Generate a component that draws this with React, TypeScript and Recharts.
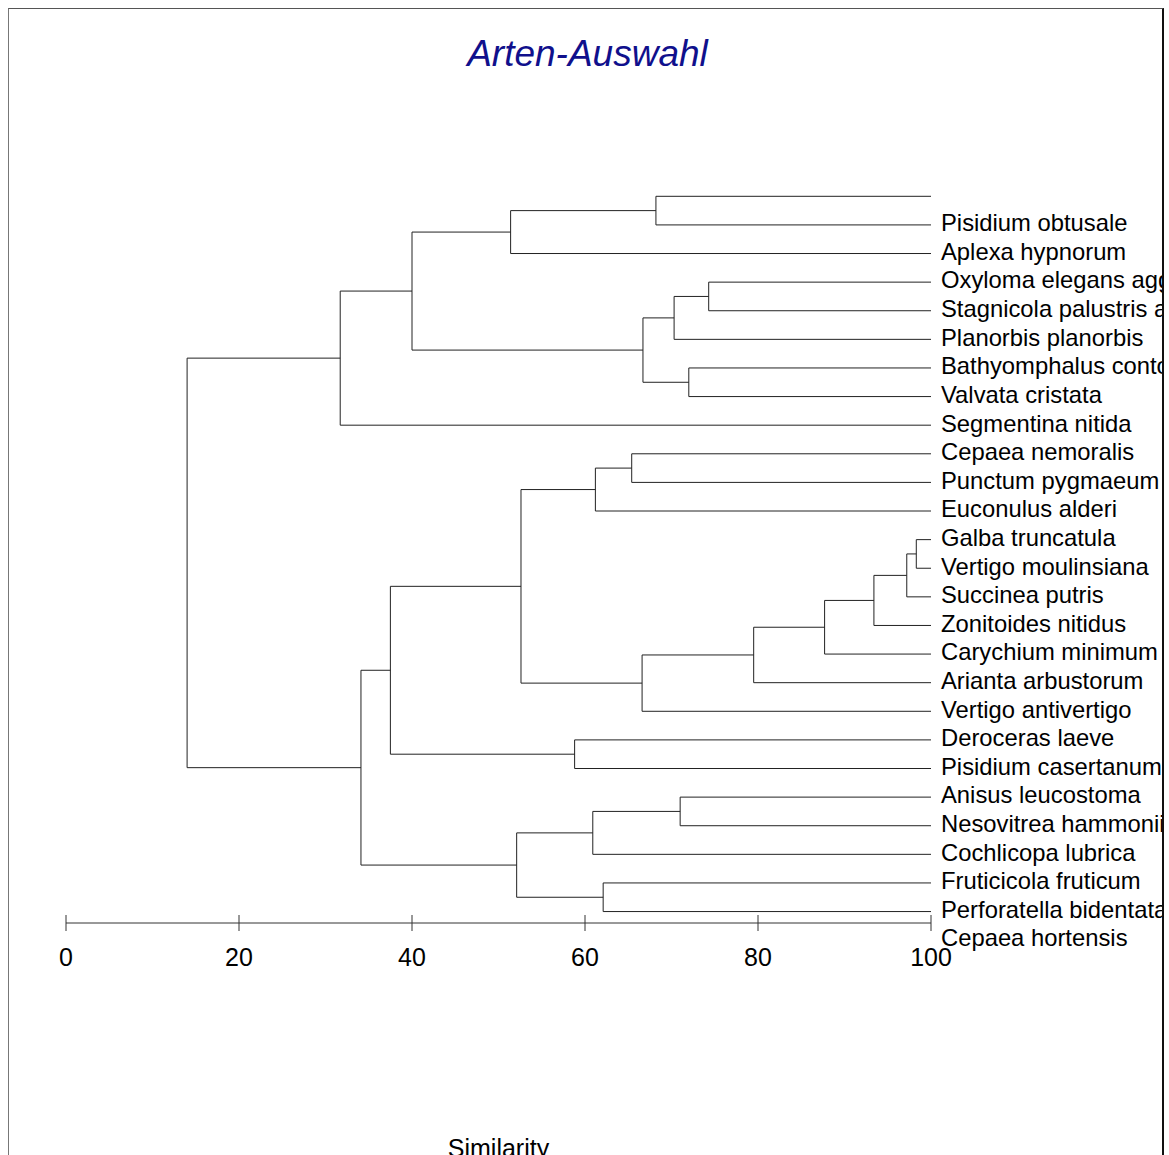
import { LineChart, Line, XAxis, YAxis } from 'recharts';

// species names, top to bottom
const LABELS = [
  'Pisidium obtusale',
  'Aplexa hypnorum',
  'Oxyloma elegans agg.',
  'Stagnicola palustris agg.',
  'Planorbis planorbis',
  'Bathyomphalus contortus',
  'Valvata cristata',
  'Segmentina nitida',
  'Cepaea nemoralis',
  'Punctum pygmaeum',
  'Euconulus alderi',
  'Galba truncatula',
  'Vertigo moulinsiana',
  'Succinea putris',
  'Zonitoides nitidus',
  'Carychium minimum',
  'Arianta arbustorum',
  'Vertigo antivertigo',
  'Deroceras laeve',
  'Pisidium casertanum',
  'Anisus leucostoma',
  'Nesovitrea hammonii',
  'Cochlicopa lubrica',
  'Fruticicola fruticum',
  'Perforatella bidentata',
  'Cepaea hortensis',
];

const LEAF_COUNT = 26;

// linkage: leaves are 0..25 (row order), merge k creates node 26 + k
const MERGE_LEFT = [12, 26, 27, 28, 29, 3, 6, 21, 31, 0, 34, 30, 9, 24, 38, 33, 19, 40, 41, 35, 45, 43, 47, 46, 49];
const MERGE_RIGHT = [13, 14, 15, 16, 17, 4, 7, 22, 5, 1, 32, 18, 10, 25, 11, 23, 20, 37, 39, 2, 36, 42, 44, 8, 48];
const MERGE_SIM = [98.3, 97.2, 93.4, 87.7, 79.5, 74.3, 72.0, 71.0, 70.3, 68.2, 66.7, 66.6, 65.4, 62.1, 61.2, 60.9, 58.8, 52.6, 52.1, 51.4, 40.0, 37.5, 34.1, 31.7, 14.0];

const X_TICKS = [0, 20, 40, 60, 80, 100];
const Y_DOMAIN = [-0.5, 25.4];

const FONT = '"Liberation Sans", Arial, sans-serif';
const CHART_W = 1153;
const CHART_H = 1146;
const MARGIN = { top: 173, right: 0, bottom: 172, left: 57 };
const X_AXIS_H = 60;
const PLOT_H = CHART_H - MARGIN.top - MARGIN.bottom - X_AXIS_H;
const ROW_PX = PLOT_H / (Y_DOMAIN[1] - Y_DOMAIN[0]);
const TICK_SIZE = 8;
const TICK_MARGIN = 6;

// node coordinates: x = similarity, y = row
const nodeX: number[] = [];
const nodeY: number[] = [];
for (let i = 0; i < LEAF_COUNT; i++) {
  nodeX.push(100);
  nodeY.push(i);
}
MERGE_SIM.forEach((h, k) => {
  nodeX.push(h);
  nodeY.push((nodeY[MERGE_LEFT[k]] + nodeY[MERGE_RIGHT[k]]) / 2);
});

const links = MERGE_SIM.map((h, k) => {
  const a = MERGE_LEFT[k];
  const b = MERGE_RIGHT[k];
  return [
    { x: nodeX[a], y: nodeY[a] },
    { x: h, y: nodeY[a] },
    { x: h, y: nodeY[b] },
    { x: nodeX[b], y: nodeY[b] },
  ];
});

const leafRows = LABELS.map((_, i) => i).slice(0, LEAF_COUNT);

function XTick({ x, y, payload }: any) {
  const axisY = y - TICK_SIZE - TICK_MARGIN;
  return (
    <g>
      <line x1={x} x2={x} y1={axisY - 8} y2={axisY + 8} stroke="#333" />
      <text x={x} y={axisY + 34} dy="0.35em" textAnchor="middle" fontSize={25} fontFamily={FONT} fill="#000">
        {payload.value}
      </text>
    </g>
  );
}

function YTick({ x, y, payload }: any) {
  // names sit one row below their branch
  return (
    <text x={x} y={y + ROW_PX - 2} dy="0.35em" textAnchor="start" fontSize={23.8} fontFamily={FONT} fill="#000">
      {LABELS[payload.value]}
    </text>
  );
}

export default function App() {
  return (
    <div
      style={{
        position: 'fixed',
        left: 8,
        top: 8,
        width: CHART_W,
        height: 1200,
        borderTop: '1px solid #555',
        borderLeft: '1px solid #777',
        borderRight: '2px solid #111',
        background: '#fff',
        overflow: 'hidden',
        fontFamily: FONT,
      }}
    >
      <div
        style={{
          position: 'absolute',
          top: 26,
          left: 2,
          width: CHART_W,
          textAlign: 'center',
          fontSize: 37,
          lineHeight: 1,
          fontStyle: 'italic',
          color: '#10108c',
        }}
      >
        Arten-Auswahl
      </div>
      <LineChart width={CHART_W} height={CHART_H} margin={MARGIN}>
        <XAxis
          dataKey="x"
          type="number"
          domain={[0, 100]}
          ticks={X_TICKS}
          interval={0}
          height={X_AXIS_H}
          tickSize={TICK_SIZE}
          tickMargin={TICK_MARGIN}
          tickLine={false}
          axisLine={{ stroke: '#333' }}
          tick={<XTick />}
        />
        <YAxis
          type="number"
          orientation="right"
          domain={Y_DOMAIN}
          reversed
          ticks={leafRows}
          interval={0}
          width={CHART_W - 922}
          axisLine={false}
          tickLine={false}
          tickSize={6}
          tickMargin={4}
          tick={<YTick />}
        />
        {links.map((pts, k) => (
          <Line
            key={k}
            data={pts}
            dataKey="y"
            type="linear"
            stroke="#222"
            strokeWidth={1}
            dot={false}
            activeDot={false}
            isAnimationActive={false}
          />
        ))}
      </LineChart>
      <div
        style={{
          position: 'absolute',
          top: 1127,
          left: MARGIN.left,
          width: 922 - MARGIN.left,
          textAlign: 'center',
          fontSize: 25,
          lineHeight: 1,
          color: '#000',
        }}
      >
        Similarity
      </div>
    </div>
  );
}
